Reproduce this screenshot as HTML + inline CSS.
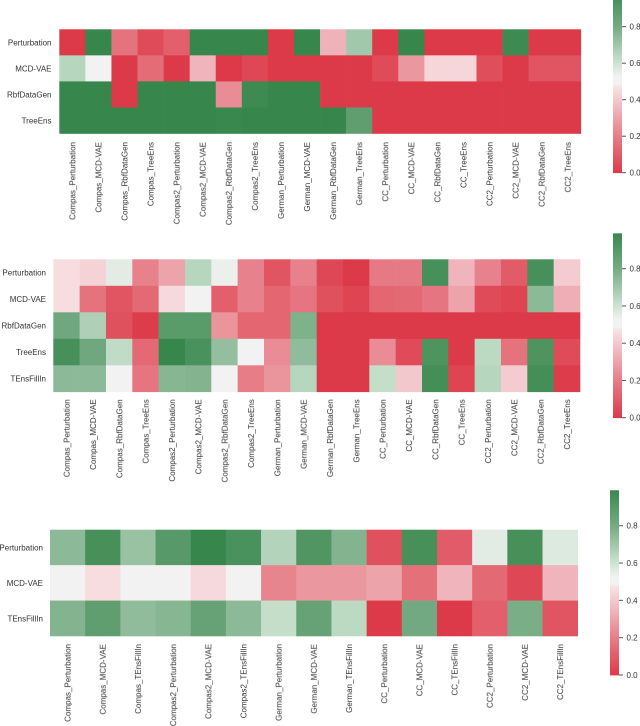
<!DOCTYPE html>
<html>
<head>
<meta charset="utf-8">
<style>
html,body{margin:0;padding:0;background:#fff;width:640px;height:726px;overflow:hidden}
svg{display:block}
text{font-family:"Liberation Sans",sans-serif;font-size:8px;fill:#333;filter:blur(.3px)}
</style>
</head>
<body>
<svg id="chart" width="640" height="726" viewBox="0 0 640 726" xmlns="http://www.w3.org/2000/svg"></svg>
<script>
const colTicks1 = ["Compas_Perturbation","Compas_MCD-VAE","Compas_RbfDataGen","Compas_TreeEns","Compas2_Perturbation","Compas2_MCD-VAE","Compas2_RbfDataGen","Compas2_TreeEns","German_Perturbation","German_MCD-VAE","German_RbfDataGen","German_TreeEns","CC_Perturbation","CC_MCD-VAE","CC_RbfDataGen","CC_TreeEns","CC2_Perturbation","CC2_MCD-VAE","CC2_RbfDataGen","CC2_TreeEns"];
const rowTicks1 = ["Perturbation","MCD-VAE","RbfDataGen","TreeEns"];
const values1 = [
  [0,1,.17,.05,.11,1,1,1,0,1,.34,.7,0,1,0,0,0,.98,0,0],
  [.65,.5,0,.15,0,.35,0,.04,0,0,0,0,.05,.27,.44,.44,.06,0,.08,.08],
  [1,1,0,1,1,1,.24,.98,1,1,0,0,0,0,0,0,0,0,0,0],
  [1,1,1,1,1,1,.995,1,1,1,1,.87,0,0,0,0,0,0,0,0]
];
const colTicks2 = colTicks1;
const rowTicks2 = ["Perturbation","MCD-VAE","RbfDataGen","TreeEns","TEnsFillIn"];
const values2 = [
  [.46,.43,.56,.21,.3,.65,.54,.21,.08,.21,.04,0,.19,.19,.95,.35,.21,.1,.95,.41],
  [.46,.17,.08,.14,.45,.53,.11,.21,.13,.18,.07,.03,.13,.14,.18,.3,.05,.03,.75,.33],
  [.82,.67,.07,.01,.89,.89,.26,.13,.13,.78,0,0,0,0,0,0,0,0,0,0],
  [.95,.82,.63,.14,1,.94,.73,.5,.24,.74,0,0,.24,.05,.93,0,.64,.17,.93,.05],
  [.75,.75,.5,.18,.76,.77,.5,.2,.26,.65,0,0,.62,.4,.96,.03,.65,.41,.96,.01]
];
const colTicks3 = ["Compas_Perturbation","Compas_MCD-VAE","Compas_TEnsFillIn","Compas2_Perturbation","Compas2_MCD-VAE","Compas2_TEnsFillIn","German_Perturbation","German_MCD-VAE","German_TEnsFillIn","CC_Perturbation","CC_MCD-VAE","CC_TEnsFillIn","CC2_Perturbation","CC2_MCD-VAE","CC2_TEnsFillIn"];
const rowTicks3 = ["Perturbation","MCD-VAE","TEnsFillIn"];
const values3 = [
  [.75,.95,.72,.9,1,.94,.66,.92,.77,.07,.95,.1,.56,.95,.57],
  [.5,.46,.5,.5,.45,.5,.22,.27,.27,.3,.16,.35,.14,.04,.35],
  [.77,.87,.74,.76,.85,.75,.62,.85,.64,0,.81,0,.11,.79,.08]
];
const colorbarTicks = [0,.2,.4,.6,.8];
const colorStops = [0,.2,.4,.475,.49,.528,.6,.8,1];
const colorRed = [220,58,72,230,125,135,243,200,205,248,226,228,242,242,242,242,242,242,205,228,210,118,171,131,55,135,76];

const svg = document.getElementById('chart');
const NS = 'http://www.w3.org/2000/svg';

function colorOf(v){
  let k = 0;
  while(k < colorStops.length-2 && v > colorStops[k+1]) k++;
  const t = Math.min(1,Math.max(0,(v-colorStops[k])/(colorStops[k+1]-colorStops[k])));
  const c = [0,1,2].map(n=>Math.round(colorRed[k*3+n]+(colorRed[(k+1)*3+n]-colorRed[k*3+n])*t));
  return 'rgb('+c.join(',')+')';
}
function el(tag,attrs,parent){
  const e = document.createElementNS(NS,tag);
  for(const k in attrs) e.setAttribute(k,attrs[k]);
  parent.appendChild(e);
  return e;
}
function drawPanel(idx,colTicks,rowTicks,values,box,bar){
  const g = el('g',{},svg);
  
  
  const xScale = i => box.x0 + (box.x1-box.x0)*i/colTicks.length;
  const yScale = j => box.y0 + (box.y1-box.y0)*j/rowTicks.length;
  values.forEach((row,j)=>row.forEach((v,i)=>{
    const r = el('rect',{x:xScale(i),y:yScale(j),width:xScale(i+1)-xScale(i)+.3,height:yScale(j+1)-yScale(j)+.3,fill:colorOf(v)},g);
    
    
  }));
  rowTicks.forEach((t,j)=>{
    const e = el('text',{x:box.labelX,y:(yScale(j)+yScale(j+1))/2+3,'text-anchor':'end'},g);
    e.textContent = t;
    
    
  });
  colTicks.forEach((t,i)=>{
    const x = (xScale(i)+xScale(i+1))/2+3, y = box.y1+box.labelGap;
    const e = el('text',{x:x,y:y,'text-anchor':'end',transform:'rotate(-90 '+x+' '+y+')'},g);
    e.textContent = t;
    
    
  });
  const cb = el('g',{},g);
  
  
  const cbScale = v => bar.y0 + (bar.y08-bar.y0)*v/.8;
  const steps = 100;
  for(let s=0;s<steps;s++){
    const lo = s/steps*.99, hi = (s+1)/steps*.99;
    el('rect',{x:bar.x,y:cbScale(hi),width:bar.w,height:cbScale(lo)-cbScale(hi)+.4,fill:colorOf((lo+hi)/2)},cb);
  }
  colorbarTicks.forEach(v=>{
    const y = cbScale(v);
    const tick = el('line',{x1:bar.x+bar.w,x2:bar.x+bar.w+4,y1:y,y2:y,stroke:'#555','stroke-width':1},cb);
    
    
    const e = el('text',{x:bar.x+bar.w+7.5,y:y+3},cb);
    e.textContent = v.toFixed(1);
    
    
  });
}
drawPanel(1,colTicks1,rowTicks1,values1,{x0:59.3,x1:580.8,y0:29.3,y1:133.5,labelX:51.5,labelGap:8.5},{x:613,w:9,y0:172.7,y08:26.7});
drawPanel(2,colTicks2,rowTicks2,values2,{x0:53.3,x1:580,y0:259.3,y1:391.8,labelX:46,labelGap:7.5},{x:613,w:9,y0:417.7,y08:268.7});
drawPanel(3,colTicks3,rowTicks3,values3,{x0:50,x1:577.7,y0:529.7,y1:636,labelX:43,labelGap:8},{x:610,w:9,y0:675,y08:525.7});
</script>
</body>
</html>
